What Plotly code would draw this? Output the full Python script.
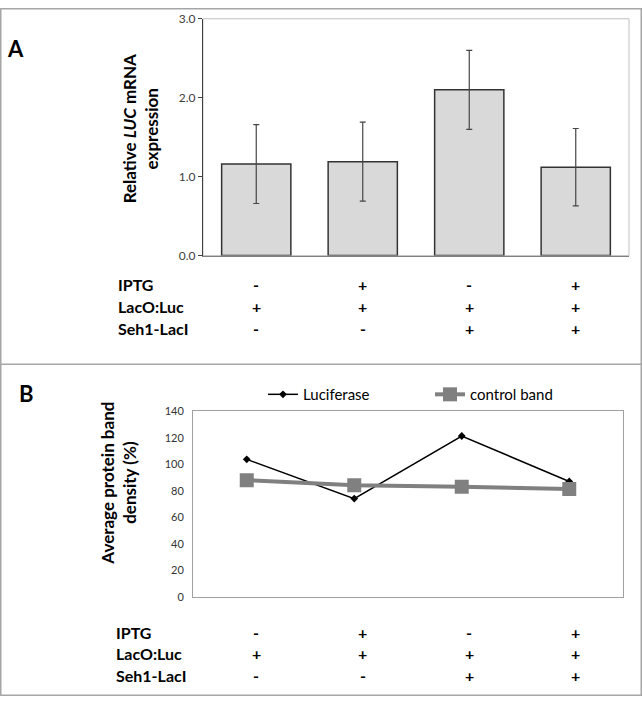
import plotly.graph_objects as go

# ---------------- data ----------------
conditions = ["c1", "c2", "c3", "c4"]
mrna_expression = [1.16, 1.19, 2.10, 1.12]
mrna_error = [0.50, 0.50, 0.50, 0.49]
luciferase = [103.7, 74.1, 121.3, 87.0]
control_band = [88.0, 84.2, 83.0, 81.4]
row_labels = ["IPTG", "LacO:Luc", "Seh1-LacI"]
iptg = ["-", "+", "-", "+"]
laco_luc = ["+", "+", "+", "+"]
seh1_laci = ["-", "-", "+", "+"]
rows = [iptg, laco_luc, seh1_laci]

W, H = 642, 703
FONT = "Lato, Carlito, Calibri, 'Open Sans', sans-serif"

def px(x):
    return x / W

def py(y):
    return 1 - y / H

fig = go.Figure()

# Panel A bars
fig.add_trace(go.Bar(
    x=conditions, y=mrna_expression,
    error_y=dict(type="data", array=mrna_error, color="#454545", thickness=1.2, width=3),
    marker=dict(color="#d9d9d9", line=dict(color="#333333", width=1.5)),
    width=0.65, xaxis="x", yaxis="y", showlegend=False,
))

# Panel B lines
fig.add_trace(go.Scatter(
    x=conditions, y=luciferase, name="Luciferase", mode="lines+markers",
    line=dict(color="#000000", width=1.5),
    marker=dict(symbol="diamond", size=6, color="#000000"),
    xaxis="x2", yaxis="y2",
))
fig.add_trace(go.Scatter(
    x=conditions, y=control_band, name="control band", mode="lines+markers",
    line=dict(color="#808080", width=4),
    marker=dict(symbol="square", size=14, color="#808080"),
    xaxis="x2", yaxis="y2",
))

fig.update_layout(
    width=W, height=H, autosize=False,
    margin=dict(l=0, r=0, t=0, b=0),
    paper_bgcolor="white", plot_bgcolor="white",
    font=dict(family=FONT, color="#000"),
    xaxis=dict(domain=[px(203), px(629)], anchor="y", showticklabels=False,
               range=[-0.5, 3.5], showline=True, linecolor="#808080", linewidth=1,
               showgrid=False, zeroline=False, ticks=""),
    yaxis=dict(domain=[py(253), py(11)], anchor="x", range=[0, 3], dtick=1,
               tickformat=".1f", showline=True, linecolor="#404040", linewidth=1,
               ticks="outside", ticklen=4, tickcolor="#404040", showgrid=False,
               zeroline=False, tickfont=dict(size=12, color="#404040", family=FONT)),
    xaxis2=dict(domain=[px(193), px(623)], anchor="y2", showticklabels=False,
                range=[-0.5, 3.5], showline=True, mirror=True, linecolor="#a0a0a0",
                linewidth=1, showgrid=False, zeroline=False, ticks=""),
    yaxis2=dict(domain=[py(601.7), py(412)], anchor="x2", range=[0, 140], dtick=20,
                showline=True, mirror=True, linecolor="#a0a0a0", linewidth=1,
                ticks="", showgrid=False, zeroline=False, ticklabelstandoff=6,
                tickfont=dict(size=11, color="#333333", family=FONT)),
    legend=dict(orientation="h", x=px(263), y=py(395), xanchor="left", yanchor="middle",
                font=dict(size=15, family=FONT, color="#000"), entrywidth=122,
                bgcolor="rgba(0,0,0,0)", borderwidth=0),
)

shapes = [
    dict(type="rect", xref="paper", yref="paper", x0=px(0.75), x1=px(W - 0.75),
         y0=py(H - 0.75), y1=py(0.75), line=dict(color="#a6a6a6", width=1.5)),
    dict(type="line", xref="paper", yref="paper", x0=0, x1=1, y0=py(364), y1=py(364),
         line=dict(color="#a6a6a6", width=1.5)),
    dict(type="rect", xref="x domain", yref="y domain", x0=0, x1=1, y0=0, y1=1,
         line=dict(color="#c0c0c0", width=1), layer="below"),
]
fig.update_layout(shapes=shapes)

ann = []
ann.append(dict(text="<b>A</b>", x=px(15), y=py(41), xref="paper", yref="paper",
                xanchor="center", yanchor="middle", showarrow=False,
                font=dict(size=22, family=FONT)))
ann.append(dict(text="<b>B</b>", x=px(26), y=py(394), xref="paper", yref="paper",
                xanchor="center", yanchor="middle", showarrow=False,
                font=dict(size=22, family=FONT)))
ann.append(dict(text="<b>Relative <i>LUC</i> mRNA<br>expression</b>", x=px(140), y=py(124),
                xref="paper", yref="paper", xanchor="center", yanchor="middle",
                showarrow=False, textangle=-90, font=dict(size=17, family=FONT)))
ann.append(dict(text="<b>Average protein band<br>density (%)</b>", x=px(119), y=py(486),
                xref="paper", yref="paper", xanchor="center", yanchor="middle",
                showarrow=False, textangle=-90, font=dict(size=17, family=FONT)))

for (xlab, ys) in [(116, [283, 305, 327]), (114, [638, 660, 682])]:
    for r, label in enumerate(row_labels):
        ann.append(dict(text=f"<b>{label}</b>", x=px(xlab), y=py(ys[r]), xref="paper",
                        yref="paper", xanchor="left", yanchor="middle", showarrow=False,
                        font=dict(size=16, family=FONT)))
        for c, sym in enumerate(rows[r]):
            ann.append(dict(text=f"<b>{sym}</b>", x=conditions[c], y=py(ys[r]), xref="x",
                            yref="paper", xanchor="center", yanchor="middle",
                            showarrow=False, font=dict(size=16, family=FONT)))

fig.update_layout(annotations=ann)

fig.write_html("out.html", config={"displayModeBar": False},
               post_script="document.body.style.margin='0';")
